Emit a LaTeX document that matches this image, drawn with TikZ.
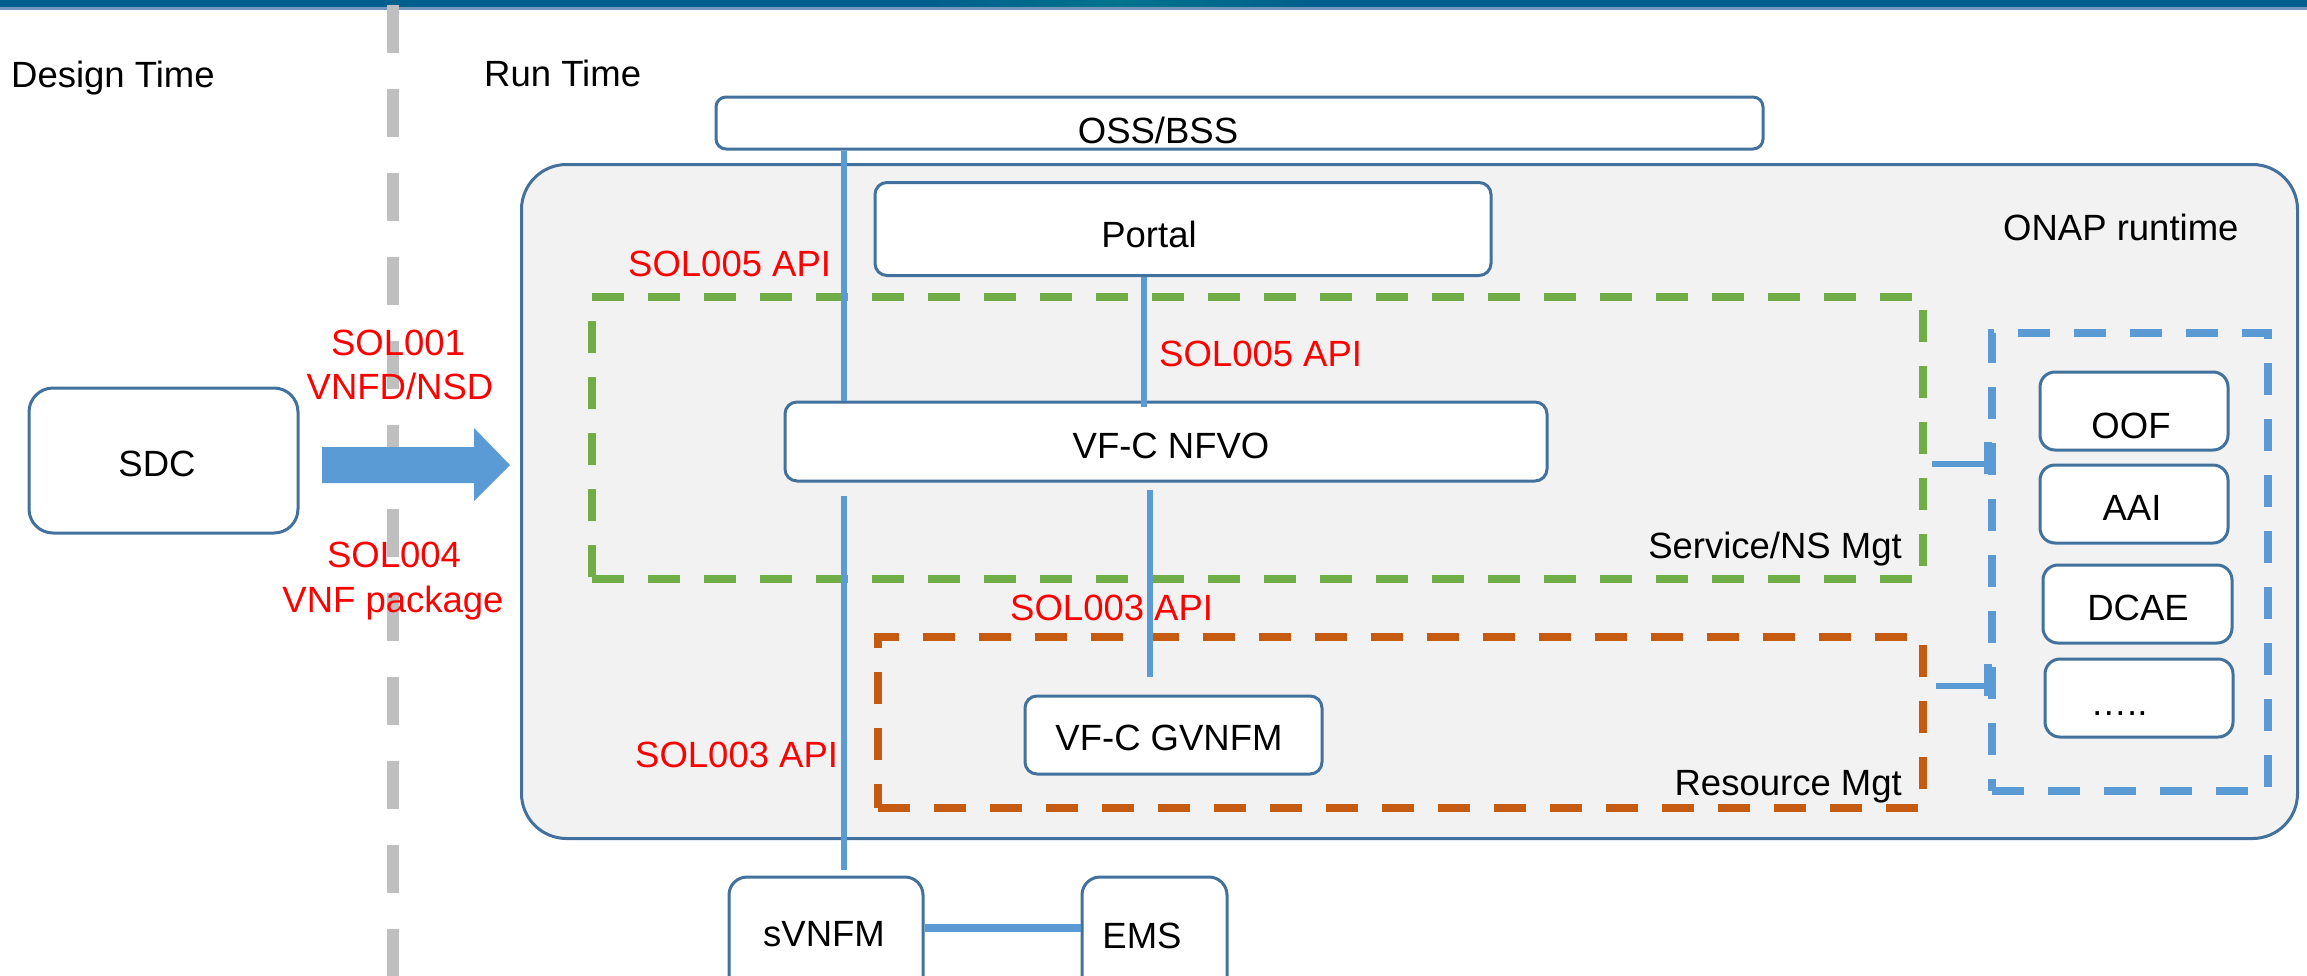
\documentclass[tikz,border=0pt]{standalone}
\usepackage{fontspec}
\setmainfont{Liberation Sans}
\definecolor{boxborder}{HTML}{41719C}
\definecolor{conblue}{HTML}{5B9BD5}
\definecolor{grnd}{HTML}{70AD47}
\definecolor{orgd}{HTML}{C55A11}
\definecolor{bgfill}{HTML}{F2F2F2}
\definecolor{sepgray}{HTML}{BFBFBF}
\definecolor{topblue}{HTML}{005F8C}
\definecolor{topteal}{HTML}{00738E}
\definecolor{toplight}{HTML}{7096BC}
\definecolor{redtxt}{HTML}{FF0000}
\tikzset{
  box/.style={draw=boxborder, line width=3pt, fill=white, rounded corners=12pt, inner sep=0pt},
  lbl/.style={font=\fontsize{36.5}{42}\selectfont, inner sep=0pt, text=black},
  api/.style={font=\fontsize{36.5}{42}\selectfont, inner sep=0pt, text=redtxt},
  conn/.style={draw=conblue, line width=6pt},
  tbar/.style={draw=conblue, line width=8pt},
  groupbox/.style={line width=8pt, dash pattern=on 32pt off 24pt, inner sep=0pt},
}
\begin{document}
\begin{tikzpicture}[x=1pt, y=-1pt]
\useasboundingbox (0,0) rectangle (2307,975);
% top band
\fill[topblue] (0,0) rectangle (2307,7);
\shade[left color=topblue, right color=topteal] (925,0) rectangle (1120,7);
\shade[left color=topteal, right color=topblue] (1120,0) rectangle (1317,7);
\fill[toplight] (0,7) rectangle (2307,9.5);
% separator
\draw[sepgray, line width=12pt, dash pattern=on 48pt off 36pt] (393,5) -- (393,1000);
% headings
\node[lbl, anchor=base west] (design) at (11,87) {Design Time};
\node[lbl, anchor=base west] (run) at (484,86) {Run Time};
% SDC and arrow
\node[box, rounded corners=24pt, minimum width=269pt, minimum height=145pt] (sdc) at (163.5,460.5) {};
\node[lbl, anchor=base] (sdct) at (157,476) {SDC};
\fill[conblue] (322,447) -- (474,447) -- (474,428) -- (510,465) -- (474,501) -- (474,483) -- (322,483) -- cycle;
\node[api, anchor=base] (sol001) at (398,355) {SOL001};
\node[api, anchor=base] (vnfd) at (400,399) {VNFD/NSD};
\node[api, anchor=base] (sol004) at (394,567) {SOL004};
\node[api, anchor=base] (vnfpkg) at (393,612) {VNF package};
% ONAP runtime
\node[draw=boxborder, line width=3pt, fill=bgfill, rounded corners=45pt, minimum width=1776pt, minimum height=674pt] (onap) at (1409.5,501.5) {};
\node[lbl, anchor=base west] (onapt) at (2003,240) {ONAP runtime};
% OSS/BSS
\node[box, rounded corners=10pt, minimum width=1047pt, minimum height=52pt] (oss) at (1239.5,123) {};
\node[lbl, anchor=base] (osst) at (1158,143) {OSS/BSS};
% group boxes
\node[groupbox, draw=grnd, minimum width=1331pt, minimum height=282pt] (svc) at (1257.5,438) {};
\node[groupbox, draw=orgd, minimum width=1045pt, minimum height=171pt] (res) at (1400.5,722.5) {};
\node[groupbox, draw=conblue, minimum width=276pt, minimum height=458pt] (ext) at (2130,562) {};
\node[lbl, anchor=base east] (svct) at (1902,558) {Service/NS Mgt};
\node[lbl, anchor=base east] (rest) at (1902,795) {Resource Mgt};
% Portal, NFVO, GVNFM
\node[box, minimum width=616pt, minimum height=93pt] (portal) at (1183,229) {};
\node[lbl, anchor=base] (portalt) at (1149,247) {Portal};
\node[box, minimum width=762pt, minimum height=79pt] (nfvo) at (1166,441.5) {};
\node[lbl, anchor=base] (nfvot) at (1171,458) {VF-C NFVO};
\node[box, minimum width=297pt, minimum height=78pt] (gvnfm) at (1173.5,735) {};
\node[lbl, anchor=base] (gvnfmt) at (1169,750) {VF-C GVNFM};
% external components
\node[box, rounded corners=15pt, minimum width=188pt, minimum height=78pt] (oof) at (2134,411) {};
\node[lbl, anchor=base] (ooft) at (2131,438) {OOF};
\node[box, rounded corners=15pt, minimum width=188pt, minimum height=78pt] (aai) at (2134,504) {};
\node[lbl, anchor=base] (aait) at (2132,520) {AAI};
\node[box, rounded corners=15pt, minimum width=189pt, minimum height=78pt] (dcae) at (2137.5,604) {};
\node[lbl, anchor=base] (dcaet) at (2138,620) {DCAE};
\node[box, rounded corners=15pt, minimum width=188pt, minimum height=78pt] (more) at (2139,698) {};
\node[lbl, anchor=base] (moret) at (2119,715) {…..};
% sVNFM and EMS
\node[box, rounded corners=18pt, minimum width=194pt, minimum height=126pt] (svnfm) at (826,940) {};
\node[lbl, anchor=base] (svnfmt) at (824,946) {sVNFM};
\node[box, rounded corners=18pt, minimum width=145pt, minimum height=126pt] (ems) at (1154.5,940) {};
\node[lbl, anchor=base] (emst) at (1142,948) {EMS};
% connectors
\coordinate (xa) at (844,0);
\coordinate (xb) at (1144,0);
\coordinate (xc) at (1150,0);
\coordinate (ya) at (0,464);
\coordinate (yb) at (0,686);
\coordinate (yc) at (0,928);
\draw[conn] (oss.south -| xa) -- (nfvo.north -| xa);
\draw[conn, shorten >=-6pt] (portal.south -| xb) -- (nfvo.north -| xb);
\draw[conn, shorten <=13pt, shorten >=6pt] (nfvo.south -| xa) -- (svnfm.north -| xa);
\draw[conn, shorten <=7pt, shorten >=18pt] (nfvo.south -| xc) -- (gvnfm.north -| xc);
\draw[conn, line width=8pt] (svnfm.east |- yc) -- (ems.west |- yc);
\draw[conn, shorten <=5pt] (svc.east |- ya) -- (ext.west |- ya);
\draw[tbar] (ext.west |- ya) ++(0,-22) -- ++(0,32);
\draw[conn, shorten <=9pt] (res.east |- yb) -- (ext.west |- yb);
\draw[tbar] (ext.west |- yb) ++(0,-22) -- ++(0,32);
% API labels
\node[api, anchor=base west] (api1) at (628,276) {SOL005 API};
\node[api, anchor=base west] (api2) at (1159,366) {SOL005 API};
\node[api, anchor=base west] (api3) at (1010,620) {SOL003 API};
\node[api, anchor=base west] (api4) at (635,767) {SOL003 API};
\end{tikzpicture}
\end{document}
